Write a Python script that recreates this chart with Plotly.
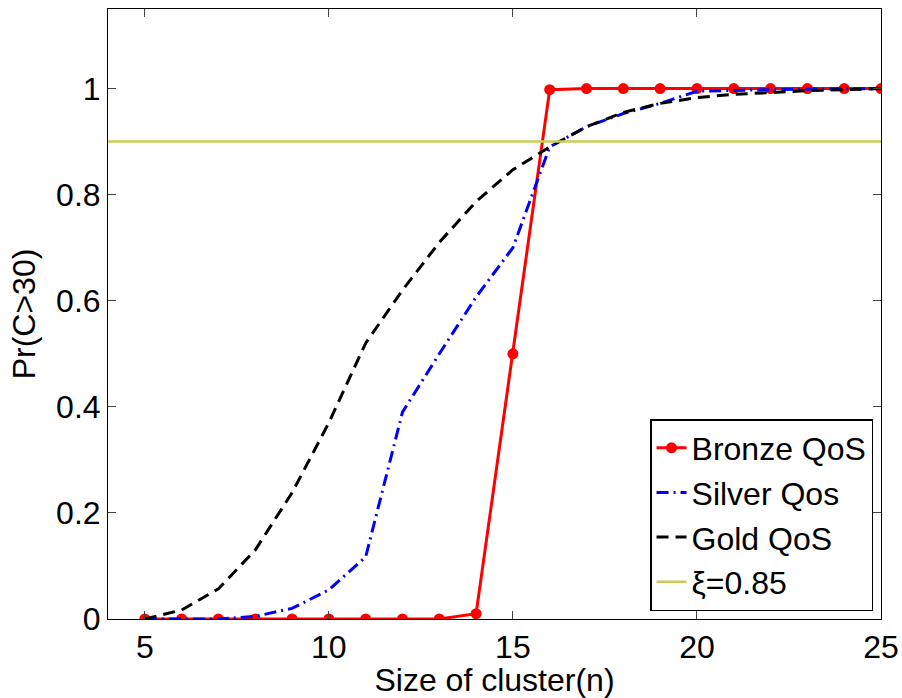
import plotly.graph_objects as go

n_values = [5, 6, 7, 8, 9, 10, 11, 12, 13, 14, 15, 16, 17, 18, 19, 20, 21, 22, 23, 24, 25]
bronze = [0, 0, 0, 0, 0, 0, 0, 0, 0, 0.01, 0.50, 0.998, 1.0, 1.0, 1.0, 1.0, 1.0, 1.0, 1.0, 1.0, 1.0]
silver = [0, 0, 0, 0.005, 0.02, 0.055, 0.117, 0.39, 0.50, 0.607, 0.70, 0.89, 0.928, 0.953, 0.972, 0.995, 0.997, 0.998, 0.999, 1.0, 1.0]
gold = [0, 0.017, 0.057, 0.13, 0.238, 0.37, 0.52, 0.62, 0.71, 0.787, 0.847, 0.89, 0.928, 0.955, 0.972, 0.983, 0.989, 0.993, 0.996, 0.998, 1.0]
xi_level = 0.9
x_span = [4, 25]
x_ticks = [5, 10, 15, 20, 25]
y_ticks = [0, 0.2, 0.4, 0.6, 0.8, 1]

FONT = "Liberation Sans, Arial, sans-serif"

fig = go.Figure()
fig.add_trace(go.Scatter(
    x=n_values, y=bronze, name="Bronze QoS", mode="lines+markers",
    line=dict(color="#ff0000", width=3),
    marker=dict(color="#ff0000", size=11),
))
fig.add_trace(go.Scatter(
    x=n_values, y=silver, name="Silver Qos", mode="lines",
    line=dict(color="#0000ff", width=3, dash="12px,5px,2px,5px"),
))
fig.add_trace(go.Scatter(
    x=n_values, y=gold, name="Gold QoS", mode="lines",
    line=dict(color="#000000", width=3, dash="12px,7px"),
))
fig.add_trace(go.Scatter(
    x=x_span, y=[xi_level, xi_level], name="\u03be=0.85", mode="lines",
    line=dict(color="#cccc55", width=2.5),
))

fig.update_layout(
    width=902, height=698,
    margin=dict(l=108, r=21, t=9, b=79, autoexpand=False),
    paper_bgcolor="white", plot_bgcolor="white",
    font=dict(family=FONT, size=32, color="black"),
    showlegend=True,
    legend=dict(
        x=0.9897, y=0.013, xanchor="right", yanchor="bottom",
        bgcolor="white", bordercolor="black", borderwidth=1.5,
        font=dict(family=FONT, size=32, color="black"),
        tracegroupgap=0, itemwidth=30,
    ),
)
fig.update_xaxes(
    range=x_span, tickvals=x_ticks, ticks="inside", ticklen=8, tickcolor="#444",
    showline=True, linecolor="black", linewidth=1, mirror="ticks",
    showgrid=False, zeroline=False, ticklabeloverflow="allow",
    title=dict(text="Size of cluster(n)", standoff=8, font=dict(size=32)),
    tickfont=dict(size=32),
)
fig.update_yaxes(
    range=[0, 1.15], tickvals=y_ticks, ticks="inside", ticklen=8, tickcolor="#444",
    showline=True, linecolor="black", linewidth=1, mirror="ticks",
    showgrid=False, zeroline=False,
    title=dict(text="Pr(C>30)", standoff=10, font=dict(size=32)),
    tickfont=dict(size=32),
)

fig.write_html(
    "out.html",
    config={"displayModeBar": False},
    post_script="document.body.style.margin='0';document.body.style.overflow='hidden';",
)
